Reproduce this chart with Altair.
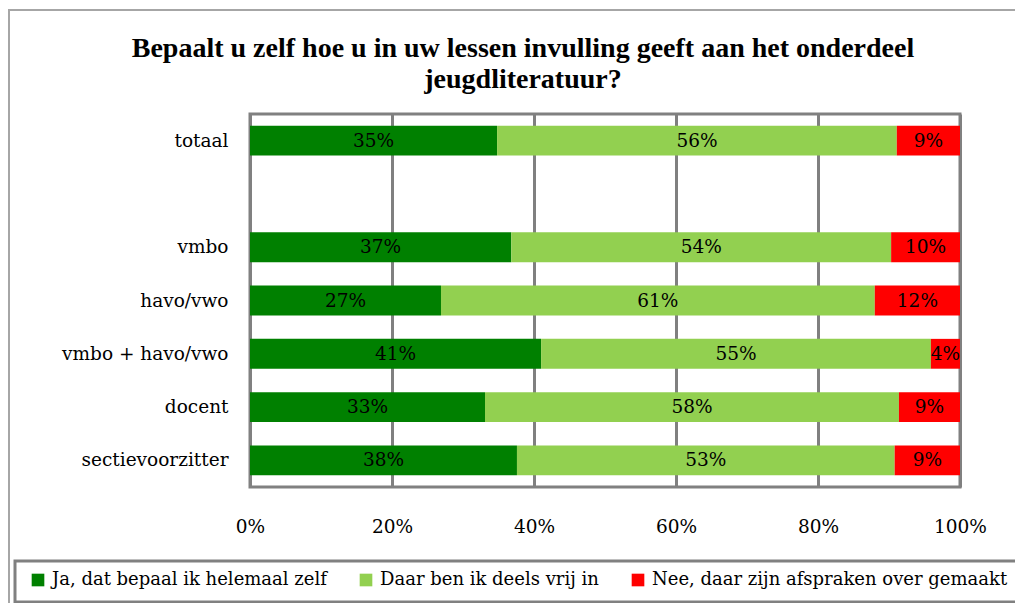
import altair as alt
import pandas as pd

categories = ["totaal", " ", "vmbo", "havo/vwo", "vmbo + havo/vwo", "docent", "sectievoorzitter"]
rows = ["totaal", "vmbo", "havo/vwo", "vmbo + havo/vwo", "docent", "sectievoorzitter"]
series = ["Ja, dat bepaal ik helemaal zelf", "Daar ben ik deels vrij in", "Nee, daar zijn afspraken over gemaakt"]
ja = [34.8, 36.8, 26.9, 41.0, 33.1, 37.6]
deels = [56.3, 53.5, 61.1, 54.9, 58.3, 53.2]
nee = [8.9, 9.7, 12.0, 4.1, 8.6, 9.2]
ja_lbl = ["35%", "37%", "27%", "41%", "33%", "38%"]
deels_lbl = ["56%", "54%", "61%", "55%", "58%", "53%"]
nee_lbl = ["9%", "10%", "12%", "4%", "9%", "9%"]
colors = ["#008000", "#92D050", "#FF0000"]
x_ticks = [0, 20, 40, 60, 80, 100]

recs = []
for i, r in enumerate(rows):
    for k, (vals, lbls) in enumerate([(ja, ja_lbl), (deels, deels_lbl), (nee, nee_lbl)]):
        recs.append({"cat": r, "serie": series[k], "order": k, "value": vals[i], "label": lbls[i]})
df = pd.DataFrame(recs)

FONT = "DejaVu Serif"
FS = 18.5

base = alt.Chart(df).transform_stack(
    stack="value", groupby=["cat"], as_=["x0", "x1"], sort=[alt.SortField("order")]
).transform_calculate(mid="(datum.x0 + datum.x1) / 2")

yenc = alt.Y("cat:N", scale=alt.Scale(domain=categories, paddingInner=0.44, paddingOuter=0.22),
             axis=alt.Axis(title=None, ticks=False, domain=False, labelPadding=22,
                           labelFontSize=FS, labelFont=FONT, labelColor="black"))

bars = base.mark_bar().encode(
    x=alt.X("x0:Q", scale=alt.Scale(domain=[0, 100], nice=False),
            axis=alt.Axis(values=x_ticks, labelExpr="datum.value + '%'", title=None, ticks=False,
                          domain=False, grid=True, gridColor="#808080", gridWidth=3,
                          labelFlush=False, labelPadding=30, labelFontSize=FS, labelFont=FONT,
                          labelColor="black")),
    x2="x1:Q",
    y=yenc,
    color=alt.Color("serie:N", scale=alt.Scale(domain=series, range=colors),
                    legend=alt.Legend(title=None, orient="none", direction="horizontal",
                                      legendX=-226, legendY=452, symbolType="square",
                                      symbolSize=160, symbolStrokeWidth=0, labelFontSize=18,
                                      labelFont=FONT, labelColor="black", columnPadding=30,
                                      labelLimit=500, padding=5, labelOffset=5)),
    order=alt.Order("order:Q"),
)

texts = base.mark_text(fontSize=FS, font=FONT, color="black").encode(
    x="mid:Q",
    y=alt.Y("cat:N", scale=alt.Scale(domain=categories)),
    text="label:N",
)

deco = pd.DataFrame({"a": [0]})
frame = alt.Chart(deco).mark_rect(
    fill=None, stroke="#a6a6a6", strokeWidth=2
).encode(x=alt.value(-241), x2=alt.value(820), y=alt.value(-104), y2=alt.value(520))

legend_box = alt.Chart(deco).mark_rect(
    fill="white", stroke="#808080", strokeWidth=3
).encode(x=alt.value(-235), x2=alt.value(820), y=alt.value(447), y2=alt.value(488))

chart = alt.layer(frame, legend_box, bars, texts).properties(
    width=710, height=373,
    autosize=alt.AutoSizeParams(type="none"),
    padding={"left": 242, "top": 106, "right": 55, "bottom": 116},
    title=alt.Title(text=["Bepaalt u zelf hoe u in uw lessen invulling geeft aan het onderdeel", "jeugdliteratuur?"],
                    anchor="middle", dx=-82, dy=85, fontSize=28, font="Liberation Serif",
                    fontWeight="bold", color="black", lineHeight=31, offset=0),
).configure_view(stroke="#808080", strokeWidth=3)

chart.save("out.html", embed_options={"renderer": "svg", "actions": False})
